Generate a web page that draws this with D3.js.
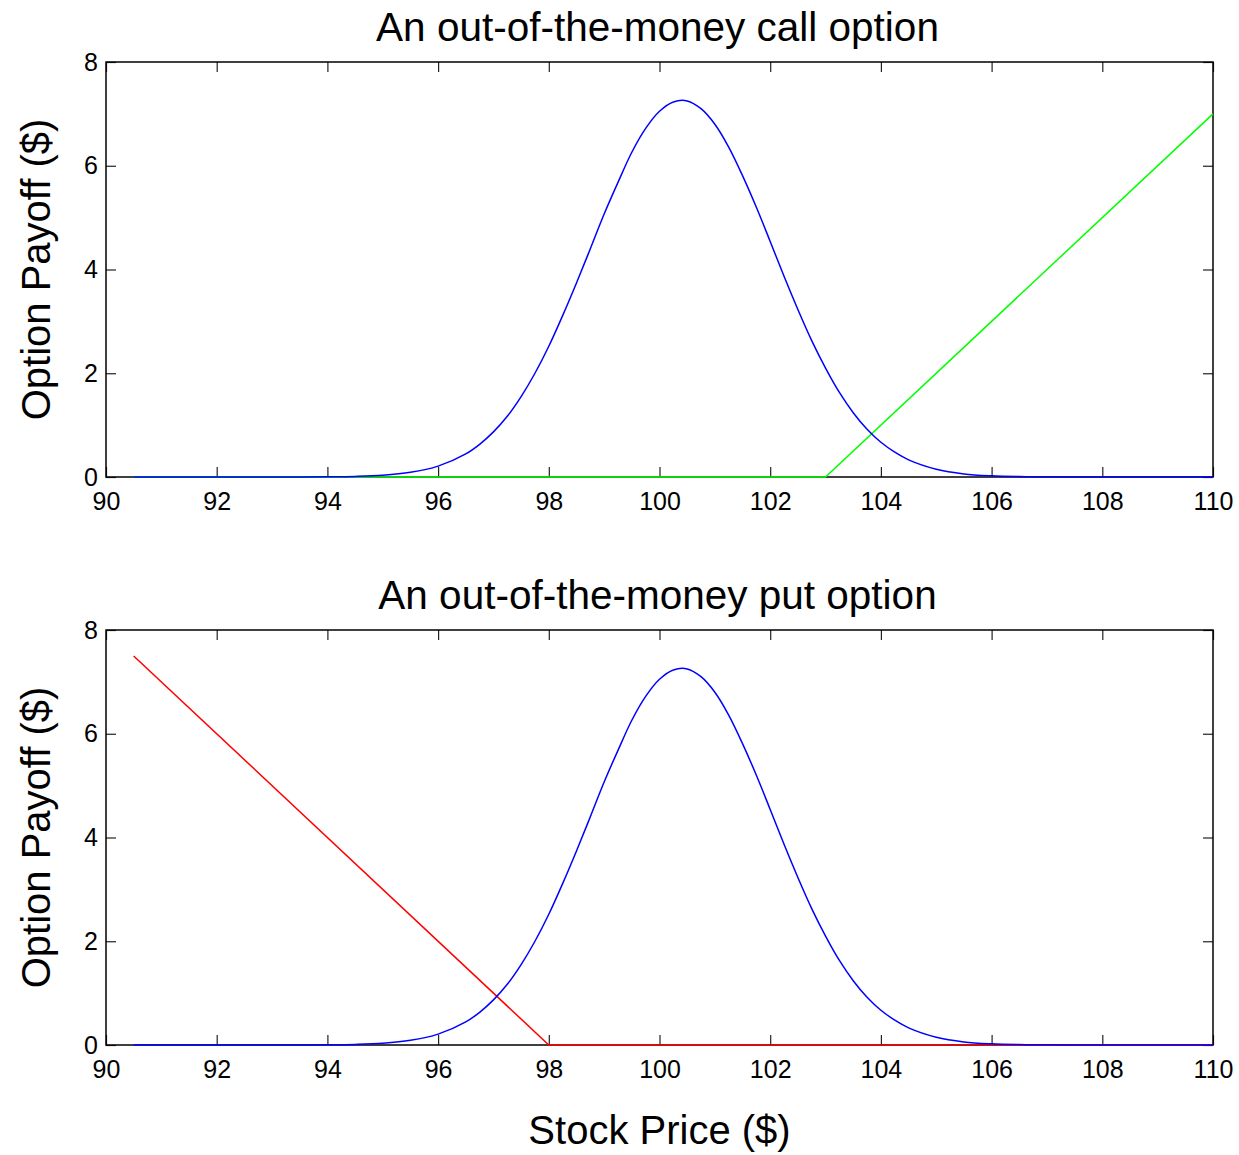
<!DOCTYPE html>
<html>
<head>
<meta charset="utf-8">
<script src="https://cdn.jsdelivr.net/npm/d3@7"></script>
<style>
  html, body { margin: 0; padding: 0; background: #fff; }
  svg { display: block; font-family: "Liberation Sans", Arial, Helvetica, sans-serif; }
</style>
</head>
<body>
<svg id="chart" width="1239" height="1155"></svg>
<script>
// ---- data ----
const stockPrice = [90.5, 91, 91.5, 92, 92.5, 93, 93.5, 94, 94.5, 95, 95.5, 96, 96.5, 96.75, 97, 97.25, 97.5, 97.75, 98, 98.25, 98.5, 98.75, 99, 99.25, 99.5, 99.75, 100, 100.25, 100.5, 100.75, 101, 101.25, 101.5, 101.75, 102, 102.25, 102.5, 102.75, 103, 103.25, 103.5, 103.75, 104, 104.25, 104.5, 105, 105.5, 106, 106.5, 107, 107.5, 108, 108.5, 109, 109.5, 110];
const priceDensity = [0, 0, 0, 0, 0, 0, 0.001, 0.004, 0.012, 0.034, 0.09, 0.21, 0.445, 0.63, 0.87, 1.17, 1.55, 2.0, 2.52, 3.11, 3.74, 4.4, 5.07, 5.68, 6.26, 6.72, 7.05, 7.23, 7.25, 7.1, 6.8, 6.36, 5.81, 5.2, 4.54, 3.87, 3.23, 2.63, 2.1, 1.63, 1.24, 0.92, 0.67, 0.48, 0.33, 0.15, 0.06, 0.023, 0.008, 0.003, 0.001, 0, 0, 0, 0, 0];

const callPrice = [90.5, 103, 110];
const callPayoff = [0, 0, 7];

const putPrice = [90.5, 98, 110];
const putPayoff = [7.5, 0, 0];

const xTickValues = [90, 92, 94, 96, 98, 100, 102, 104, 106, 108, 110];
const yTickValues = [0, 2, 4, 6, 8];

const panelTitles = ["An out-of-the-money call option", "An out-of-the-money put option"];
const yAxisTitle = "Option Payoff ($)";
const xAxisTitle = "Stock Price ($)";

// ---- layout ----
const svg = d3.select("#chart");
const left = 106, right = 1213;
const panels = [
  { top: 62, bottom: 477, title: panelTitles[0], px: callPrice, py: callPayoff, color: "#00ff00" },
  { top: 630, bottom: 1045, title: panelTitles[1], px: putPrice, py: putPayoff, color: "#ff0000" }
];

const x = d3.scaleLinear().domain([90, 110]).range([left, right]);

panels.forEach((p, idx) => {
  const y = d3.scaleLinear().domain([0, 8]).range([p.bottom, p.top]);
  const g = svg.append("g");

  const axB = g.append("g").attr("transform", `translate(0,${p.bottom})`)
    .call(d3.axisBottom(x).tickValues(xTickValues).tickSizeInner(-10).tickSizeOuter(0).tickPadding(15).tickFormat(d3.format("d")));
  const axT = g.append("g").attr("transform", `translate(0,${p.top})`)
    .call(d3.axisTop(x).tickValues(xTickValues).tickSizeInner(-10).tickSizeOuter(0).tickFormat(""));
  const axL = g.append("g").attr("transform", `translate(${left},0)`)
    .call(d3.axisLeft(y).tickValues(yTickValues).tickSizeInner(-10).tickSizeOuter(0).tickPadding(8).tickFormat(d3.format("d")));
  const axR = g.append("g").attr("transform", `translate(${right},0)`)
    .call(d3.axisRight(y).tickValues(yTickValues).tickSizeInner(-10).tickSizeOuter(0).tickFormat(""));

  [axB, axT, axL, axR].forEach(a => {
    a.select(".domain").remove();
    a.selectAll(".tick line").attr("stroke", "#222").attr("stroke-width", 1.2);
    a.selectAll(".tick text").attr("fill", "#000").style("font-size", "25px")
      .style("font-family", "'Liberation Sans', Arial, sans-serif");
  });
  axB.selectAll(".tick text").attr("dy", "0.71em");

  g.append("rect")
    .attr("x", left).attr("y", p.top)
    .attr("width", right - left).attr("height", p.bottom - p.top)
    .attr("fill", "none").attr("stroke", "#000").attr("stroke-width", 1.5);

  const payoffData = p.px.map((v, i) => [v, p.py[i]]);
  g.append("path")
    .datum(payoffData)
    .attr("fill", "none").attr("stroke", p.color).attr("stroke-width", 1.5)
    .attr("d", d3.line().x(d => x(d[0])).y(d => y(d[1])));

  const densData = stockPrice.map((v, i) => [v, priceDensity[i]]);
  g.append("path")
    .datum(densData)
    .attr("fill", "none").attr("stroke", "#0000ff").attr("stroke-width", 1.5)
    .attr("d", d3.line().curve(d3.curveCatmullRom.alpha(0.5)).x(d => x(d[0])).y(d => y(d[1])));

  g.append("text")
    .attr("x", (left + right) / 2 - 2).attr("y", p.top - 21)
    .attr("text-anchor", "middle")
    .style("font-size", "40.5px").attr("fill", "#000")
    .text(p.title);

  g.append("text")
    .attr("transform", `translate(50,${(p.top + p.bottom) / 2}) rotate(-90)`)
    .attr("text-anchor", "middle")
    .style("font-size", "40px").attr("fill", "#000")
    .text(yAxisTitle);
});

svg.append("text")
  .attr("x", (left + right) / 2).attr("y", 1144)
  .attr("text-anchor", "middle")
  .style("font-size", "40px").attr("fill", "#000")
  .text(xAxisTitle);
</script>
</body>
</html>
